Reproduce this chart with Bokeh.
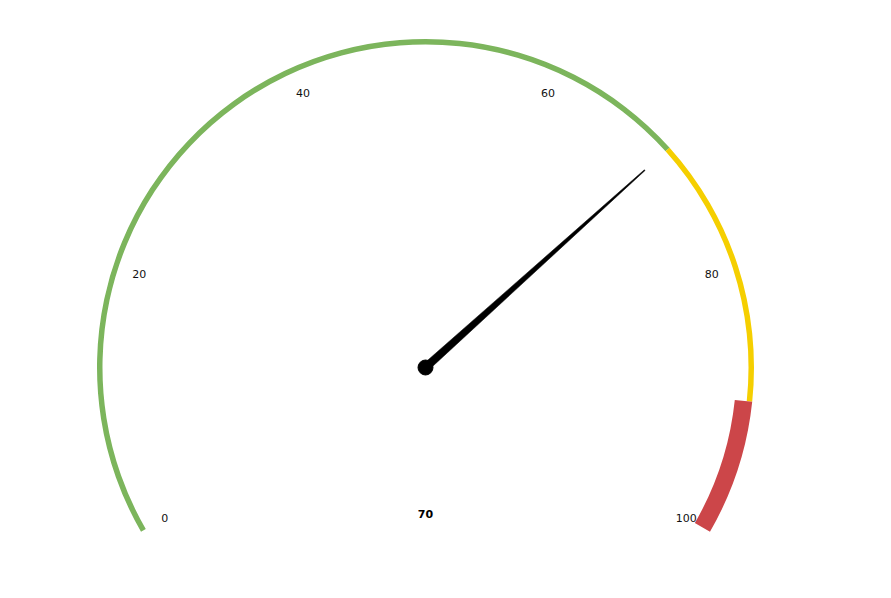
import math
from bokeh.plotting import figure
from bokeh.models import Range1d, ColumnDataSource
from bokeh.core.properties import value
from bokeh.embed import file_html
from bokeh.resources import INLINE

# ---- data ----
gauge_min = 0
gauge_max = 100
needle_value = 70
tick_values = [0, 20, 40, 60, 80, 100]
tick_labels = ["0", "20", "40", "60", "80", "100"]
band_from = [0, 70, 90]
band_to = [70, 90, 100]
band_colors = ["#7cb55c", "#f5cf00", "#cc4649"]
band_inner = [323, 323, 311]
band_outer = [328.5, 328.5, 328.5]

W, H = 891, 598
CX, CY = 425, H - 367
START_DEG, END_DEG = 210.0, -30.0


def angle(v):
    frac = (v - gauge_min) / (gauge_max - gauge_min)
    return math.radians(START_DEG + (END_DEG - START_DEG) * frac)


p = figure(width=W, height=H, output_backend="svg", toolbar_location=None,
           x_range=Range1d(0, W), y_range=Range1d(0, H), min_border=0)
p.axis.visible = False
p.grid.visible = False
p.outline_line_color = None
p.background_fill_color = "white"
p.border_fill_color = "white"

band_src = ColumnDataSource(dict(
    x=[CX] * len(band_from), y=[CY] * len(band_from),
    start=[angle(t) for t in band_to], end=[angle(f) for f in band_from],
    inner=band_inner, outer=band_outer, color=band_colors))
p.annular_wedge(x="x", y="y", inner_radius="inner", outer_radius="outer",
                start_angle="start", end_angle="end", color="color",
                line_color=None, source=band_src)

# tick labels
lab_r = 301
p.text(x=[CX + lab_r * math.cos(angle(v)) for v in tick_values],
       y=[CY + lab_r * math.sin(angle(v)) for v in tick_values],
       text=tick_labels, text_align="center", text_baseline="middle",
       text_font=value("DejaVu Sans"), text_font_size="11px", text_color="#111111")

# needle
a = angle(needle_value)
L = 295
base_w = 4.0
tip_w = 0.5
nx, ny = math.cos(a), math.sin(a)
px, py = -ny, nx
xs = [CX + px * base_w, CX + nx * L + px * tip_w, CX + nx * L - px * tip_w, CX - px * base_w]
ys = [CY + py * base_w, CY + ny * L + py * tip_w, CY + ny * L - py * tip_w, CY - py * base_w]
p.patch(xs, ys, color="black", line_color="black", line_width=0.5)
p.circle(x=[CX], y=[CY], radius=7.5, color="black")

# data label
p.text(x=[CX], y=[H - 513], text=[str(needle_value)], text_align="center",
       text_baseline="middle", text_font=value("DejaVu Sans"), text_font_size="11px",
       text_font_style="bold", text_color="black")

open("out.html", "w").write(file_html(p, INLINE))
